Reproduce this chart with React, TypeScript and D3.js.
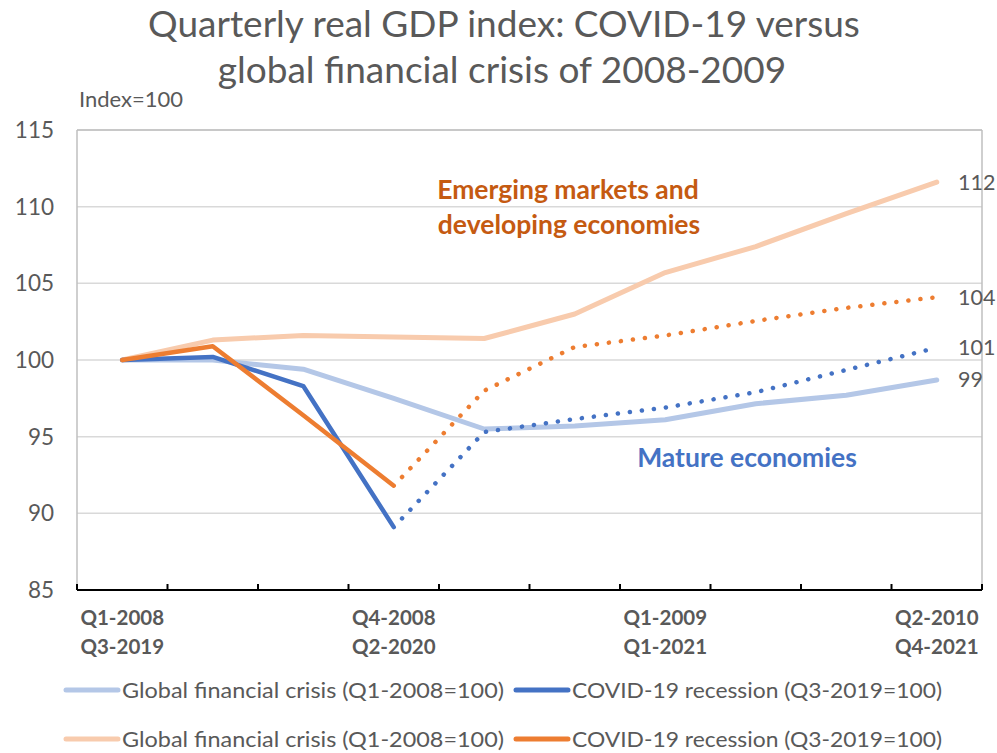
import * as d3 from "d3";

const quarterLabelsGfc = ["Q1-2008", "", "", "Q4-2008", "", "", "Q1-2009", "", "", "Q2-2010"];
const quarterLabelsCovid = ["Q3-2019", "", "", "Q2-2020", "", "", "Q1-2021", "", "", "Q4-2021"];

// global financial crisis, Q1-2008 = 100
const gfcMature = [100, 100.0, 99.4, 97.5, 95.5, 95.7, 96.1, 97.15, 97.7, 98.7];
const gfcEmerging = [100, 101.3, 101.6, 101.5, 101.4, 103.0, 105.7, 107.4, 109.55, 111.6];
// COVID-19 recession, Q3-2019 = 100 (solid up to lastActual, dotted after)
const covidMature = [100, 100.2, 98.3, 89.1, 95.3, 96.15, 96.9, 97.9, 99.35, 100.8];
const covidEmerging = [100, 100.9, 96.4, 91.8, 98.0, 100.85, 101.6, 102.55, 103.4, 104.1];
const lastActual = 3;

const endLabels = ["112", "104", "101", "99"];
const yTicks = [85, 90, 95, 100, 105, 110, 115];

const font = "Lato, 'Open Sans', sans-serif";
const grey = "#595959";

export default function App() {
  const width = 997;
  const height = 753;
  const left = 77;
  const right = 982;
  const top = 130;
  const bottom = 590;

  const x = d3.scaleBand<number>().domain(d3.range(10)).range([left, right]);
  const cx = (i: number) => (x(i) as number) + x.bandwidth() / 2;
  const y = d3.scaleLinear().domain([85, 115]).range([bottom, top]);

  const line = d3
    .line<[number, number]>()
    .x((d) => cx(d[0]))
    .y((d) => y(d[1]));

  const pts = (arr: number[], from = 0, to = arr.length - 1) =>
    arr.map((v, i) => [i, v] as [number, number]).filter((d) => d[0] >= from && d[0] <= to);

  const edges = d3.range(11).map((i) => left + i * x.bandwidth());

  const endSeries = [gfcEmerging, covidEmerging, covidMature, gfcMature];

  const legendRows = [
    [
      { c: "#B4C7E7", t: "Global financial crisis (Q1-2008=100)" },
      { c: "#4472C4", t: "COVID-19 recession (Q3-2019=100)" },
    ],
    [
      { c: "#F8CBAD", t: "Global financial crisis (Q1-2008=100)" },
      { c: "#ED7D31", t: "COVID-19 recession (Q3-2019=100)" },
    ],
  ];

  return (
    <svg width={width} height={height} style={{ display: "block", position: "absolute", left: 0, top: 0 }} fontFamily={font}>
      <rect width={width} height={height} fill="#fff" />
      <text x={504} y={37} textAnchor="middle" fontSize={37} fill={grey}>
        Quarterly real GDP index: COVID-19 versus
      </text>
      <text x={502} y={83} textAnchor="middle" fontSize={37} fill={grey}>
        global financial crisis of 2008-2009
      </text>
      <text x={79} y={107} fontSize={22} fill={grey}>Index=100</text>

      {/* grid */}
      {yTicks.map((t) => (
        <line key={t} x1={left} x2={right} y1={y(t)} y2={y(t)} stroke="#d9d9d9" strokeWidth={1.5} />
      ))}
      <line x1={left} x2={left} y1={top} y2={bottom} stroke="#bfbfbf" strokeWidth={1.5} />
      <line x1={right} x2={right} y1={top} y2={bottom} stroke="#bfbfbf" strokeWidth={1.5} />
      <line x1={left} x2={right} y1={top} y2={top} stroke="#bfbfbf" strokeWidth={1.5} />

      {yTicks.map((t) => (
        <text key={t} x={54} y={y(t)} dy="0.35em" textAnchor="end" fontSize={22.5} fill={grey}>{t}</text>
      ))}

      {/* x axis */}
      <line x1={left} x2={right} y1={bottom} y2={bottom} stroke="#000" strokeWidth={2} />
      {edges.map((e, i) => (
        <line key={i} x1={e} x2={e} y1={bottom} y2={bottom - 6} stroke="#000" strokeWidth={2} />
      ))}
      {quarterLabelsGfc.map((l, i) =>
        l ? (
          <g key={i} fontWeight="bold" fontSize={20.5} fill={grey} textAnchor="middle">
            <text x={cx(i)} y={625}>{l}</text>
            <text x={cx(i)} y={654}>{quarterLabelsCovid[i]}</text>
          </g>
        ) : null
      )}

      {/* lines */}
      <path d={line(pts(gfcMature)) ?? ""} fill="none" stroke="#B4C7E7" strokeWidth={5} strokeLinejoin="round" strokeLinecap="round" />
      <path d={line(pts(gfcEmerging)) ?? ""} fill="none" stroke="#F8CBAD" strokeWidth={5} strokeLinejoin="round" strokeLinecap="round" />
      <path d={line(pts(covidMature, lastActual)) ?? ""} fill="none" stroke="#4472C4" strokeWidth={4.5} strokeDasharray="0.1 12" strokeLinecap="round" strokeDashoffset={-12} />
      <path d={line(pts(covidEmerging, lastActual)) ?? ""} fill="none" stroke="#ED7D31" strokeWidth={4.5} strokeDasharray="0.1 12" strokeLinecap="round" strokeDashoffset={-12} />
      <path d={line(pts(covidMature, 0, lastActual)) ?? ""} fill="none" stroke="#4472C4" strokeWidth={4.5} strokeLinejoin="round" strokeLinecap="round" />
      <path d={line(pts(covidEmerging, 0, lastActual)) ?? ""} fill="none" stroke="#ED7D31" strokeWidth={4.5} strokeLinejoin="round" strokeLinecap="round" />

      {/* end labels */}
      {endSeries.map((s, i) => (
        <text key={i} x={958} y={y(s[s.length - 1])} dy="0.35em" fontSize={21.5} fill={grey}>{endLabels[i]}</text>
      ))}

      {/* annotations */}
      <g fontWeight="bold" fontSize={26.5} fill="#C55A11" textAnchor="middle">
        <text x={568} y={199}>Emerging markets and</text>
        <text x={569} y={234}>developing economies</text>
      </g>
      <text x={747} y={467} textAnchor="middle" fontWeight="bold" fontSize={26.5} fill="#4472C4">Mature economies</text>

      {/* legend */}
      {legendRows.map((row, r) =>
        row.map((it, k) => {
          const x0 = k === 0 ? 64 : 514;
          const yy = r === 0 ? 690 : 739;
          return (
            <g key={`${r}-${k}`}>
              <line x1={x0 + 2} x2={x0 + 54} y1={yy} y2={yy} stroke={it.c} strokeWidth={5} strokeLinecap="round" />
              <text x={x0 + 58} y={yy} dy="0.35em" fontSize={22} fill={grey} textLength={k === 0 ? 382 : 370} lengthAdjust="spacingAndGlyphs">
                {it.t}
              </text>
            </g>
          );
        })
      )}
    </svg>
  );
}
